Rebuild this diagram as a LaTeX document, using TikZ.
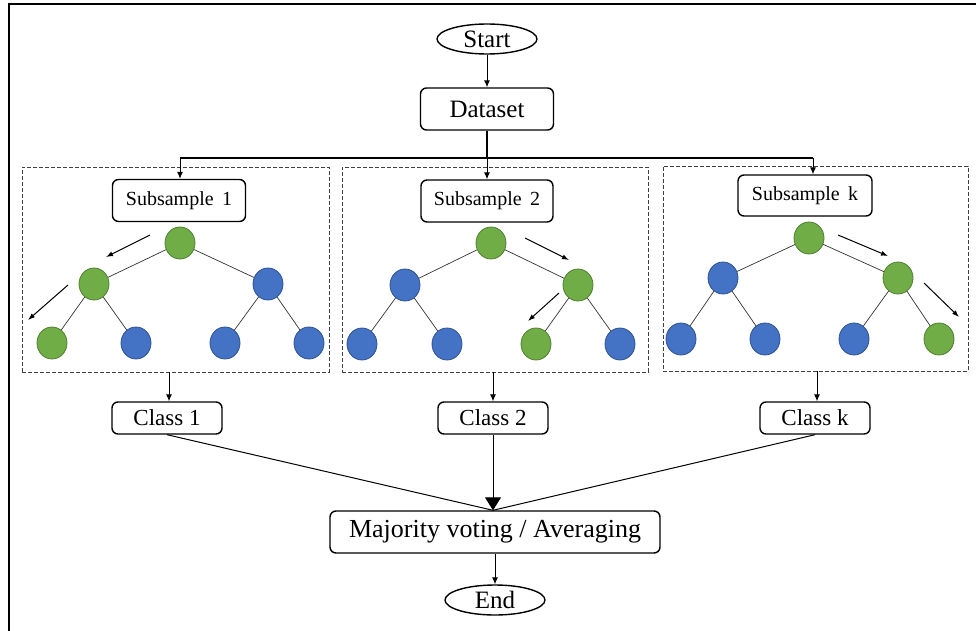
\documentclass[tikz,border=0pt]{standalone}
\usepackage{fontspec}
\setmainfont{Liberation Serif}
\usetikzlibrary{arrows.meta,shapes.geometric}
\definecolor{gfill}{HTML}{70AD47}
\definecolor{gline}{HTML}{507E32}
\definecolor{bfill}{HTML}{4472C4}
\definecolor{bline}{HTML}{2F528F}
\tikzset{
  box/.style={draw=black, line width=1.4pt, rounded corners=6pt, fill=white, inner sep=0pt},
  oval/.style={draw=black, line width=1.4pt, ellipse, inner sep=0pt},
  dashbox/.style={draw=black!75, line width=0.9pt, dash pattern=on 4pt off 2pt, inner sep=0pt},
  gnode/.style={ellipse, fill=gfill, draw=gline, line width=0.8pt, minimum width=30pt, minimum height=32pt, inner sep=0pt},
  bnode/.style={ellipse, fill=bfill, draw=bline, line width=0.8pt, minimum width=30pt, minimum height=32pt, inner sep=0pt},
  edge/.style={draw=black!80, line width=0.7pt},
  flow/.style={draw=black, line width=1pt, -{Latex[length=7pt,width=6pt]}},
  hint/.style={draw=black, line width=1pt, -{Latex[length=7pt,width=5pt]}},
  big/.style={draw=black, line width=1pt, -{Triangle[length=13pt,width=16pt]}},
}
\begin{document}
\begin{tikzpicture}[x=1pt,y=-1pt]
\useasboundingbox (0,0) rectangle (976,631);
% frame
\draw[line width=2.5pt] (9,631) -- (9,4) -- (976,4);
% top
\node[oval, minimum width=100pt, minimum height=30pt, font=\fontsize{25}{25}\selectfont] (start) at (487,39) {Start};
\node[box, minimum width=133pt, minimum height=42pt, font=\fontsize{25}{25}\selectfont] (ds) at (487,109) {Dataset};
\draw[flow] (start) -- (ds);
\coordinate (hub) at (487,158);
% dashed boxes
\node[dashbox, minimum width=307pt, minimum height=205pt] (d1) at (175.5,269.5) {};
\node[dashbox, minimum width=306pt, minimum height=205pt] (d2) at (495,269.5) {};
\node[dashbox, minimum width=305pt, minimum height=205pt] (d3) at (815.5,268.5) {};
% subsample boxes
\node[box, minimum width=133pt, minimum height=42pt, font=\fontsize{20}{20}\selectfont] (s1) at (179,200.5) {Subsample\, 1};
\node[box, minimum width=132pt, minimum height=42pt, font=\fontsize{20}{20}\selectfont] (s2) at (487,201) {Subsample\, 2};
\node[box, minimum width=134pt, minimum height=41pt, font=\fontsize{20}{20}\selectfont] (sk) at (805,195.5) {Subsample\, k};
\draw[line width=1.8pt] (ds.south) -- (hub);
\draw[line width=1.8pt] (hub -| 180,0) -- (hub -| 813,0);
\draw[flow] (hub -| 180,0) -- (s1.north -| 180,0);
\draw[flow] (hub) -- (s2.north -| hub);
\draw[flow] (hub -| 813,0) -- ([xshift=8pt]sk.north);
% tree 1
\node[gnode] (a0) at (180,243) {};
\node[gnode] (a1) at (94,284) {};
\node[bnode] (a2) at (268,284) {};
\node[gnode] (a3) at (52,343) {};
\node[bnode] (a4) at (136,343) {};
\node[bnode] (a5) at (225,343) {};
\node[bnode] (a6) at (309,343) {};
\draw[edge] (a0) -- (a1); \draw[edge] (a0) -- (a2);
\draw[edge] (a1) -- (a3); \draw[edge] (a1) -- (a4);
\draw[edge] (a2) -- (a5); \draw[edge] (a2) -- (a6);
\coordinate (h1s) at (150,235); \coordinate (h1e) at (106,257);
\coordinate (h2s) at (68,285); \coordinate (h2e) at (28,320);
\draw[hint] (h1s) -- (h1e); \draw[hint] (h2s) -- (h2e);
% tree 2
\node[gnode] (b0) at (491,243) {};
\node[bnode] (b1) at (405,285) {};
\node[gnode] (b2) at (578,285) {};
\node[bnode] (b3) at (362,344) {};
\node[bnode] (b4) at (447,344) {};
\node[gnode] (b5) at (536,344) {};
\node[bnode] (b6) at (620,344) {};
\draw[edge] (b0) -- (b1); \draw[edge] (b0) -- (b2);
\draw[edge] (b1) -- (b3); \draw[edge] (b1) -- (b4);
\draw[edge] (b2) -- (b5); \draw[edge] (b2) -- (b6);
\coordinate (h3s) at (525,238); \coordinate (h3e) at (569,260);
\coordinate (h4s) at (559,293); \coordinate (h4e) at (528,321);
\draw[hint] (h3s) -- (h3e); \draw[hint] (h4s) -- (h4e);
% tree 3
\node[gnode] (c0) at (809,238) {};
\node[bnode] (c1) at (723,278) {};
\node[gnode] (c2) at (898,278) {};
\node[bnode] (c3) at (681,339) {};
\node[bnode] (c4) at (765,339) {};
\node[bnode] (c5) at (854,339) {};
\node[gnode] (c6) at (939,339) {};
\draw[edge] (c0) -- (c1); \draw[edge] (c0) -- (c2);
\draw[edge] (c1) -- (c3); \draw[edge] (c1) -- (c4);
\draw[edge] (c2) -- (c5); \draw[edge] (c2) -- (c6);
\coordinate (h5s) at (838,235); \coordinate (h5e) at (888,256);
\coordinate (h6s) at (924,283); \coordinate (h6e) at (959,317);
\draw[hint] (h5s) -- (h5e); \draw[hint] (h6s) -- (h6e);
% classes
\node[box, minimum width=110pt, minimum height=32pt, font=\fontsize{23}{23}\selectfont] (k1) at (167,418) {Class 1};
\node[box, minimum width=110pt, minimum height=32pt, font=\fontsize{23}{23}\selectfont] (k2) at (493,418) {Class 2};
\node[box, minimum width=110pt, minimum height=32pt, font=\fontsize{23}{23}\selectfont] (k3) at (815,418) {Class k};
\draw[flow] (d1.south -| 169,0) -- (k1.north -| 169,0);
\draw[flow] (d2.south -| k2) -- (k2.north);
\draw[flow] (d3.south -| 817,0) -- (k3.north -| 817,0);
% majority
\node[box, minimum width=330pt, minimum height=42pt, font=\fontsize{26}{26}\selectfont] (maj) at (495,532) {Majority voting / Averaging};
\draw[line width=1pt] (k1.south) -- (maj.north -| k2);
\draw[line width=1pt] (k3.south) -- (maj.north -| k2);
\draw[big] (k2.south) -- (maj.north -| k2);
\node[oval, minimum width=100pt, minimum height=30pt, font=\fontsize{25}{25}\selectfont] (end) at (495,600) {End};
\draw[flow] (maj.south) -- (end.north);
\end{tikzpicture}
\end{document}
